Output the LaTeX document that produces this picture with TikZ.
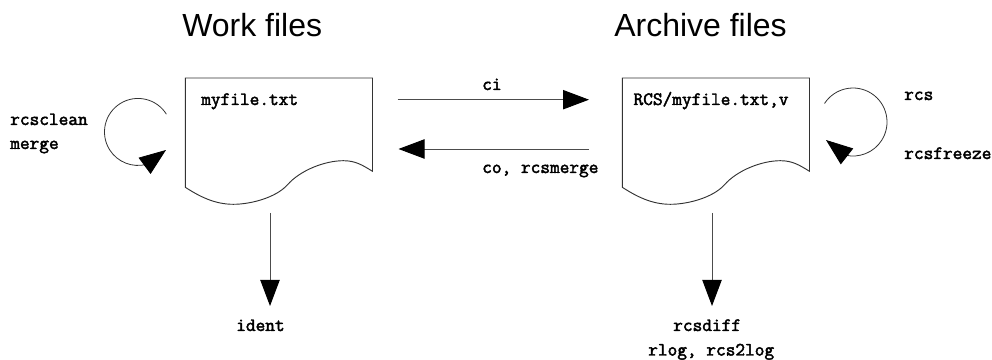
\documentclass[tikz,border=0pt]{standalone}
\usepackage{fontspec}
\setmainfont{Liberation Sans}
\newfontfamily\cmdfont[FakeBold=2.4]{Latin Modern Mono}
\usetikzlibrary{arrows.meta}
\tikzset{
	heading/.style={anchor=base west,inner sep=0pt,font=\fontsize{24}{28}\selectfont},
	cmd/.style={anchor=base west,inner sep=0pt,font=\fontsize{14.1}{16}\selectfont\cmdfont},
	flow/.style={-{Triangle[length=19.5pt,width=14.5pt,color=black]},line width=0.7pt,black!70},
	loopflow/.style={-{Triangle[length=20pt,width=15pt,color=black]},line width=0.6pt,black!80},
	page/.style={line width=0.7pt,line join=miter,black!80}
}
\begin{document}
\begin{tikzpicture}[x=0.75pt,y=0.75pt]
	\useasboundingbox (0,0) rectangle (992,360);
	% the two pages
	\foreach \pagex in {185.3,622.3}
		\draw[page,shift={(\pagex,0)}] (0,282)--(187.2,282)--(187.2,188.7)
			.. controls (177,195) and (170,199.3) .. (158,199.3)
			.. controls (140,199.3) and (115,190) .. (102,175)
			.. controls (90,162) and (65,155.7) .. (48,155.7)
			.. controls (30,155.7) and (15,163) .. (0,172.7) -- cycle;
	% titles
	\node[heading] (worktitle) at (182,323.5) {Work files};
	\node[heading] (archivetitle) at (614,323.5) {Archive files};
	% labels
	\node[cmd] (workname) at (201,255) {myfile.txt};
	\node[cmd] (archivename) at (633.3,255) {RCS/myfile.txt,v};
	\node[cmd] (rcsclean) at (10,235) {rcsclean};
	\node[cmd] (merge) at (10,211) {merge};
	\node[cmd] (ci) at (482,270) {ci};
	\node[cmd] (cors) at (482,187) {co, rcsmerge};
	\node[cmd] (rcs) at (904,260) {rcs};
	\node[cmd] (rcsfreeze) at (904,201) {rcsfreeze};
	\node[cmd] (ident) at (236,29) {ident};
	\node[cmd] (rcsdiff) at (673,29) {rcsdiff};
	\node[cmd] (rlog) at (648,4.5) {rlog, rcs2log};
	% ends of the arrows
	\coordinate (workin) at (397.5,260.3);
	\coordinate (archivein) at (589,260.3);
	\coordinate (archiveout) at (589,211);
	\coordinate (workback) at (398.5,211);
	\coordinate (workdown) at (270,147);
	\coordinate (identtop) at (270,54);
	\coordinate (archivedown) at (712,147);
	\coordinate (difftop) at (712,54);
	\coordinate (workloop) at (166.4,245.8);
	\coordinate (worktip) at (166,210);
	\coordinate (archiveloop) at (824.5,256.5);
	\coordinate (archivetip) at (826,220);
	% arrows
	\draw[flow] (workin) -- (archivein);
	\draw[flow] (archiveout) -- (workback);
	\draw[flow] (workdown) -- (identtop);
	\draw[flow] (archivedown) -- (difftop);
	\draw[loopflow] (workloop) arc[start angle=32,end angle=285,radius=33.5] -- (worktip);
	\draw[loopflow] (archiveloop) arc[start angle=147,end angle=-103,radius=34] -- (archivetip);
\end{tikzpicture}
\end{document}
